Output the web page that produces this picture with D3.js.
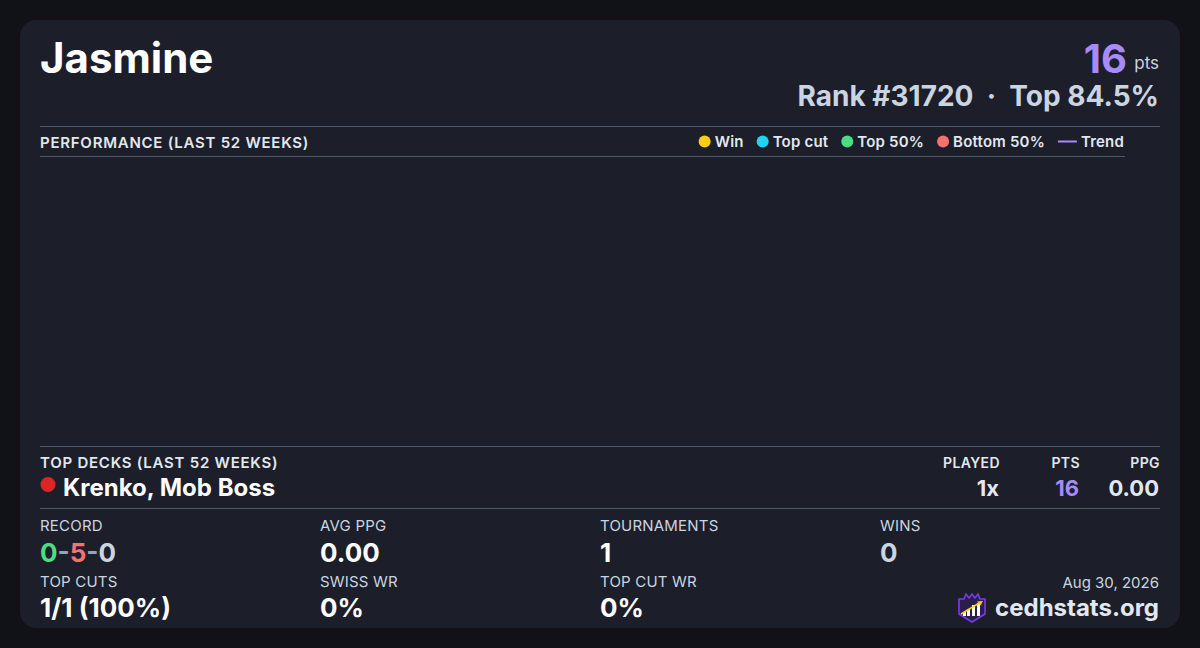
<!DOCTYPE html>
<html>
<head>
  <title>Player card</title>
  <style type="text/css">
    html, body { margin: 0; padding: 0; background: #111217; }
    svg { display: block; font-family: Inter, "Noto Sans", sans-serif; }
  </style>
</head>
<body>
<div id="card"></div>
<script src="https://d3js.org/d3.v7.min.js"></script>
<script type="text/javascript">
// --- data ---
var player = "Jasmine";
var points = 16;
var rank = 31720;
var topPct = 84.5;
var dateLabel = "Aug 30, 2026";

var legendNames = ["Win", "Top cut", "Top 50%", "Bottom 50%", "Trend"];
var legendColors = ["#facc15", "#22d3ee", "#4ade80", "#f87171", "#a78bfa"];

// weekly results for the last 52 weeks (none plotted)
var weeks = [];
var weekPoints = [];

var deckHeaders = ["PLAYED", "PTS", "PPG"];
var deckNames = ["Krenko, Mob Boss"];
var deckColors = ["#dc2626"];
var deckPlayed = ["1x"];
var deckPts = [16];
var deckPpg = ["0.00"];

var statLabels = ["RECORD", "AVG PPG", "TOURNAMENTS", "WINS", "TOP CUTS", "SWISS WR", "TOP CUT WR"];
var statValues = [null, "0.00", "1", "0", "1/1 (100%)", "0%", "0%"];
var record = [0, 5, 0];

var W = 1200, H = 648;
var svg = d3.select("#card").append("svg").attr("width", W).attr("height", H);

svg.append("rect").attr("width", W).attr("height", H).attr("fill", "#111217");
svg.append("rect")
  .attr("x", 20).attr("y", 20).attr("width", 1160).attr("height", 608)
  .attr("rx", 16).attr("fill", "#1c1e29");

var ruleColor = "#4b5870";

// header
svg.append("text").attr("x", 40).attr("y", 73)
  .attr("font-size", 42).attr("font-weight", 700).attr("fill", "#ffffff")
  .text(player);

svg.append("text").attr("x", 1159).attr("y", 69).attr("text-anchor", "end")
  .attr("font-size", 17).attr("fill", "#cbd5e1").text("pts");
svg.append("text").attr("x", 1127).attr("y", 73).attr("text-anchor", "end")
  .attr("font-size", 40).attr("font-weight", 700).attr("fill", "#a78bfa").text(points);

svg.append("text").attr("x", 1159).attr("y", 106).attr("text-anchor", "end")
  .attr("font-size", 28).attr("font-weight", 700).attr("fill", "#cbd5e1")
  .attr("xml:space", "preserve")
  .text("Rank #" + rank + "  \u00b7  Top " + topPct + "%");

// performance section
svg.append("line").attr("x1", 40).attr("x2", 1160).attr("y1", 126.5).attr("y2", 126.5)
  .attr("stroke", ruleColor);
svg.append("text").attr("x", 40).attr("y", 147.5)
  .attr("font-size", 15).attr("font-weight", 600).attr("letter-spacing", 0.75).attr("fill", "#e2e8f0")
  .text("PERFORMANCE (LAST 52 WEEKS)");
svg.append("line").attr("x1", 40).attr("x2", 1125).attr("y1", 156.5).attr("y2", 156.5)
  .attr("stroke", ruleColor);

// legend, laid out right to left from x=1124
var legend = svg.append("g");
var lx = 1124;
var legendPos = [];
for (var i = legendNames.length - 1; i >= 0; i--) {
  var tmp = legend.append("text").attr("font-size", 15).attr("font-weight", 600)
    .attr("letter-spacing", 0.2).text(legendNames[i]);
  var tw = tmp.node().getComputedTextLength();
  tmp.remove();
  var markW = legendNames[i] === "Trend" ? 19 : 12;
  legendPos[i] = { tx: lx - tw, mx: lx - tw - 4 - markW, w: markW };
  lx = lx - tw - 4 - markW - 13;
}
legendNames.forEach(function (name, i) {
  var p = legendPos[i];
  if (name === "Trend") {
    legend.append("line").attr("x1", p.mx).attr("x2", p.mx + p.w)
      .attr("y1", 141.5).attr("y2", 141.5).attr("stroke", legendColors[i]).attr("stroke-width", 2);
  } else {
    legend.append("circle").attr("cx", p.mx + p.w / 2).attr("cy", 141.5).attr("r", 6)
      .attr("fill", legendColors[i]);
  }
  legend.append("text").attr("x", p.tx).attr("y", 147)
    .attr("font-size", 15).attr("font-weight", 600).attr("letter-spacing", 0.2)
    .attr("fill", "#e2e8f0").text(name);
});

// chart area (no results in the window)
var x = d3.scaleLinear().domain([0, 51]).range([40, 1125]);
var y = d3.scaleLinear().domain([0, 20]).range([436, 166]);
var plot = svg.append("g");
plot.selectAll("circle").data(weeks).join("circle")
  .attr("cx", function (d) { return x(d); })
  .attr("cy", function (d, i) { return y(weekPoints[i]); })
  .attr("r", 5);

// top decks
svg.append("line").attr("x1", 40).attr("x2", 1160).attr("y1", 446.5).attr("y2", 446.5)
  .attr("stroke", ruleColor);
svg.append("text").attr("x", 40).attr("y", 468)
  .attr("font-size", 15).attr("font-weight", 600).attr("letter-spacing", 0.75).attr("fill", "#e2e8f0")
  .text("TOP DECKS (LAST 52 WEEKS)");

var colX = [1000, 1080, 1160];
deckHeaders.forEach(function (h, i) {
  svg.append("text").attr("x", colX[i]).attr("y", 468).attr("text-anchor", "end")
    .attr("font-size", 14).attr("font-weight", 600).attr("letter-spacing", 0.4)
    .attr("fill", "#e2e8f0").text(h);
});

deckNames.forEach(function (name, i) {
  var yy = 496 + i * 30;
  svg.append("circle").attr("cx", 48).attr("cy", yy - 11.5).attr("r", 7.5).attr("fill", deckColors[i]);
  svg.append("text").attr("x", 63).attr("y", yy)
    .attr("font-size", 24).attr("font-weight", 700).attr("fill", "#ffffff").text(name);
  svg.append("text").attr("x", colX[0] - 1).attr("y", yy).attr("text-anchor", "end")
    .attr("font-size", 22).attr("font-weight", 700).attr("fill", "#e2e8f0").text(deckPlayed[i]);
  svg.append("text").attr("x", colX[1] - 1).attr("y", yy).attr("text-anchor", "end")
    .attr("font-size", 22).attr("font-weight", 700).attr("fill", "#a78bfa").text(deckPts[i]);
  svg.append("text").attr("x", colX[2] - 1).attr("y", yy).attr("text-anchor", "end")
    .attr("font-size", 22).attr("font-weight", 700).attr("fill", "#e2e8f0").text(deckPpg[i]);
});

svg.append("line").attr("x1", 40).attr("x2", 1160).attr("y1", 508.5).attr("y2", 508.5)
  .attr("stroke", ruleColor);

// stats grid
var gridX = [40, 320, 600, 880];
statLabels.forEach(function (label, i) {
  var cx = gridX[i % 4];
  var row = Math.floor(i / 4);
  var ly = 531 + row * 56, vy = 562 + row * 55;
  svg.append("text").attr("x", cx).attr("y", ly)
    .attr("font-size", 15).attr("letter-spacing", 0.2).attr("fill", "#cbd5e1").text(label);
  var t = svg.append("text").attr("x", cx).attr("y", vy)
    .attr("font-size", 26).attr("font-weight", 700);
  if (label === "RECORD") {
    t.append("tspan").attr("fill", "#4ade80").text(record[0]);
    t.append("tspan").attr("fill", "#94a3b8").text("-");
    t.append("tspan").attr("fill", "#f87171").text(record[1]);
    t.append("tspan").attr("fill", "#94a3b8").text("-");
    t.append("tspan").attr("fill", "#cbd5e1").text(record[2]);
  } else {
    t.attr("fill", label === "WINS" ? "#cbd5e1" : "#ffffff").text(statValues[i]);
  }
});

// footer
svg.append("text").attr("x", 1159).attr("y", 588).attr("text-anchor", "end")
  .attr("font-size", 15).attr("fill", "#cbd5e1").text(dateLabel);
svg.append("text").attr("x", 1159).attr("y", 616).attr("text-anchor", "end")
  .attr("font-size", 24).attr("font-weight", 700).attr("fill", "#e2e8f0").text("cedhstats.org");

// logo
var logo = svg.append("g").attr("transform", "translate(958,593)");
logo.append("path")
  .attr("d", "M1,6 L6,6 L8,1 L11,5 L14,1 L17,5 L20,1 L22,6 L27,6 L27,21 L14,29 L1,21 Z")
  .attr("fill", "#2a1f4a").attr("stroke", "#7c3aed").attr("stroke-width", 1.6);
[[5, 19, 3, 4], [9, 16, 3, 7], [14, 12, 3, 11], [19, 10, 3, 13]].forEach(function (b) {
  logo.append("rect").attr("x", b[0]).attr("y", b[1]).attr("width", b[2]).attr("height", b[3])
    .attr("fill", "#ffffff");
});
logo.append("line").attr("x1", 3).attr("y1", 21).attr("x2", 23).attr("y2", 9)
  .attr("stroke", "#facc15").attr("stroke-width", 1.6);
logo.append("path").attr("d", "M25,8 L19,8.5 L22.5,12.5 Z").attr("fill", "#facc15");
</script>
</body>
</html>
